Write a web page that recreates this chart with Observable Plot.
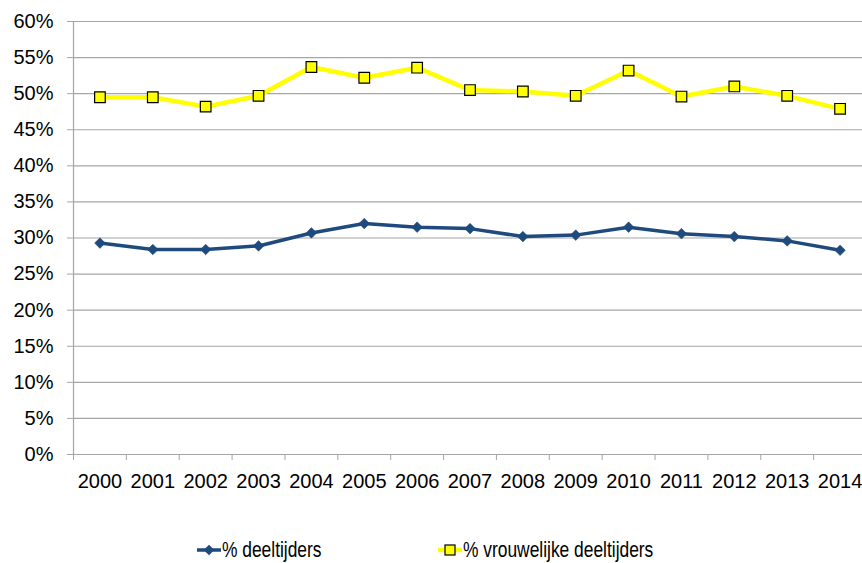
<!DOCTYPE html>
<html>
<head>
<meta charset="utf-8">
<script src="https://cdn.jsdelivr.net/npm/d3@7"></script>
<script src="https://cdn.jsdelivr.net/npm/@observablehq/plot@0.6"></script>
<style>
  html, body { margin: 0; padding: 0; background: #fff; }
  #wrap { position: relative; width: 862px; height: 563px; font-family: "Liberation Sans", Arial, sans-serif; }
  #legend { position: absolute; left: 0; top: 532px; width: 862px; height: 36px; }
  .item { position: absolute; top: 0; display: flex; align-items: center; height: 36px; }
  .item span { font-size: 22px; color: #000; display: inline-block; transform: scaleX(0.79); transform-origin: left center; white-space: nowrap; }
</style>
</head>
<body>
<div id="wrap">
  <div id="chart"></div>
  <div id="legend"></div>
</div>
<script>
const years = [2000, 2001, 2002, 2003, 2004, 2005, 2006, 2007, 2008, 2009, 2010, 2011, 2012, 2013, 2014];
const deeltijders = [0.293, 0.284, 0.284, 0.289, 0.307, 0.320, 0.315, 0.313, 0.302, 0.304, 0.315, 0.306, 0.302, 0.296, 0.283];
const vrouwelijk = [0.495, 0.495, 0.482, 0.497, 0.537, 0.522, 0.536, 0.505, 0.503, 0.497, 0.532, 0.496, 0.510, 0.497, 0.479];
const yTicks = [0, 0.05, 0.10, 0.15, 0.20, 0.25, 0.30, 0.35, 0.40, 0.45, 0.50, 0.55, 0.60];
const seriesNames = ["% deeltijders", "% vrouwelijke deeltijders"];

const blue = "#1F4A7D";
const yellow = "#FFFF00";

const dataBlue = years.map((y, i) => ({year: y, value: deeltijders[i]}));
const dataYellow = years.map((y, i) => ({year: y, value: vrouwelijk[i]}));
const boundaries = years.map(y => y - 0.5).concat([years[years.length - 1] + 0.5]);

const chart = Plot.plot({
  width: 862,
  height: 500,
  marginLeft: 73,
  marginRight: 0,
  marginTop: 21,
  marginBottom: 46,
  style: {fontFamily: "'Liberation Sans', Arial, sans-serif", fontSize: "20px", color: "#000", background: "#fff"},
  x: {type: "linear", domain: [1999.5, 2014.5], range: [73, 866]},
  y: {domain: [0, 0.6]},
  marks: [
    Plot.gridY(yTicks, {stroke: "#a6a6a6", strokeOpacity: 1, strokeWidth: 1.2}),
    Plot.ruleY([0], {stroke: "#a6a6a6", strokeWidth: 1.2}),
    Plot.frame({anchor: "left", stroke: "#a6a6a6", strokeWidth: 1.2}),
    Plot.axisY({ticks: yTicks, tickFormat: d3.format(".0%"), tickSize: 6, tickPadding: 14, stroke: "#a6a6a6", label: null, fontSize: 20, fill: "#000"}),
    Plot.axisX({ticks: boundaries, tickFormat: () => "", tickSize: 6, stroke: "#a6a6a6", label: null}),
    Plot.axisX({ticks: years, tickFormat: d => String(d), tickSize: 0, tickPadding: 19, label: null, fontSize: 20, fill: "#000"}),
    Plot.line(dataYellow, {x: "year", y: "value", stroke: yellow, strokeWidth: 4.5}),
    Plot.dot(dataYellow, {x: "year", y: "value", symbol: "square", r: 6, fill: yellow, stroke: "#000", strokeWidth: 1.2}),
    Plot.line(dataBlue, {x: "year", y: "value", stroke: blue, strokeWidth: 3.5}),
    Plot.dot(dataBlue, {x: "year", y: "value", symbol: "diamond2", r: 4.8, fill: blue, stroke: blue, strokeWidth: 0.5})
  ]
});
document.getElementById("chart").appendChild(chart);

// Legend
const legend = document.getElementById("legend");
function addItem(left, name, kind) {
  const item = document.createElement("div");
  item.className = "item";
  item.style.left = left + "px";
  const svg = d3.create("svg").attr("width", 25).attr("height", 20);
  if (kind === "blue") {
    svg.append("line").attr("x1", 0).attr("x2", 24).attr("y1", 10).attr("y2", 10).attr("stroke", blue).attr("stroke-width", 3.5);
    svg.append("path").attr("d", d3.symbol(d3.symbolDiamond2, Math.PI * 4.8 * 4.8)()).attr("transform", "translate(12,10)").attr("fill", blue);
  } else {
    svg.append("line").attr("x1", 0).attr("x2", 24).attr("y1", 10).attr("y2", 10).attr("stroke", yellow).attr("stroke-width", 4.5);
    svg.append("rect").attr("x", 7).attr("y", 5).attr("width", 10).attr("height", 10).attr("fill", yellow).attr("stroke", "#000").attr("stroke-width", 1.2);
  }
  item.appendChild(svg.node());
  const span = document.createElement("span");
  span.textContent = name;
  item.appendChild(span);
  legend.appendChild(item);
}
addItem(197, seriesNames[0], "blue");
addItem(438, seriesNames[1], "yellow");
</script>
</body>
</html>
